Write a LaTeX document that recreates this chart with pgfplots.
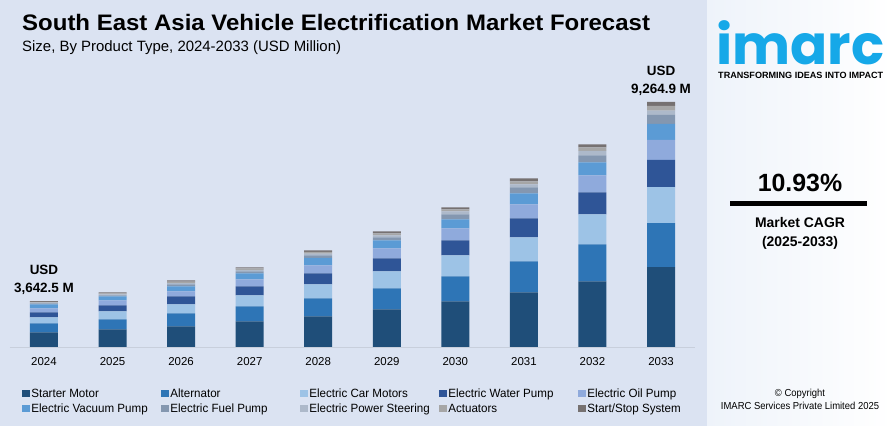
\documentclass[border=0pt]{standalone}
\usepackage{fontspec}
\setmainfont{Liberation Sans}
\newfontfamily\narrowfont[FakeStretch=0.93]{Liberation Sans}
\newfontfamily\legendfont[FakeStretch=0.97]{Liberation Sans}
\newfontfamily\titlefont[FakeStretch=1.07]{Liberation Sans}
\newfontfamily\logofont{Poppins}
\usepackage{pgfplots}
\usepackage{pgfplotstable}
\pgfplotsset{compat=1.18}

\definecolor{bgblue}{RGB}{219,227,242}
\definecolor{cStarter}{RGB}{31,78,121}
\definecolor{cAlt}{RGB}{46,117,182}
\definecolor{cCar}{RGB}{157,195,230}
\definecolor{cWater}{RGB}{47,85,151}
\definecolor{cOil}{RGB}{143,170,220}
\definecolor{cVac}{RGB}{91,155,213}
\definecolor{cFuel}{RGB}{132,151,176}
\definecolor{cPS}{RGB}{173,185,202}
\definecolor{cAct}{RGB}{166,166,166}
\definecolor{cSS}{RGB}{118,113,113}
\definecolor{imarc}{RGB}{22,168,232}
\definecolor{axisline}{RGB}{200,207,220}

% segment sizes (USD Million)
\pgfplotstableread{
idx st   alt  car  wat  oil vac fuel ps  act ss
0   556  340  227  189  151 151 38   30  26  30
1   669  378  302  227  189 151 38   38  38  38
2   782  491  340  302  189 189 76   49  49  53
3   971  567  416  340  265 227 76   57  49  45
4   1160 680  529  416  302 284 95   68  60  60
5   1425 794  643  491  378 302 113  76  76  76
6   1727 945  794  567  454 340 189  113 76  76
7   2068 1172 907  718  529 416 227  113 113 113
8   2483 1399 1134 832  643 491 265  163 140 113
9   3024 1663 1361 1021 756 605 340  163 178 151
}\segdata

\begin{document}
\begin{tikzpicture}
\useasboundingbox (0,0) rectangle (892bp,426bp);
\fill[bgblue] (0,0) rectangle (707bp,426bp);
\shade[left color={rgb,255:red,238;green,243;blue,250}, right color=white] (707bp,0) rectangle (892bp,426bp);

% titles
\node[anchor=base west, inner sep=0, font=\titlefont\bfseries\fontsize{22.5}{26}\selectfont] at (22bp,395bp)
  {South East Asia Vehicle Electrification Market Forecast};
\node[anchor=base west, inner sep=0, font=\fontsize{15}{18}\selectfont] at (22bp,374bp)
  {Size, By Product Type, 2024-2033 (USD Million)};

% right panel
\node[anchor=base west, inner sep=0, text=imarc] at (716bp,361bp)
  {\resizebox{168bp}{!}{\logofont\bfseries imarc}};
\node[anchor=base west, inner sep=0] at (718bp,347bp)
  {\resizebox{165bp}{!}{\bfseries TRANSFORMING IDEAS INTO IMPACT}};
\node[anchor=base, inner sep=0, font=\bfseries\fontsize{25}{30}\selectfont] at (800bp,234bp) {10.93\%};
\draw[line width=4.5bp] (730bp,222.5bp) -- (867bp,222.5bp);
\node[anchor=base, inner sep=0, font=\bfseries\fontsize{14}{17}\selectfont] at (800bp,198bp) {Market CAGR};
\node[anchor=base, inner sep=0, font=\bfseries\fontsize{14}{17}\selectfont] at (800bp,179bp) {(2025-2033)};
\node[anchor=base, inner sep=0, font=\narrowfont\fontsize{10.2}{12}\selectfont] at (800bp,30bp) {© Copyright};
\node[anchor=base, inner sep=0, font=\narrowfont\fontsize{10.2}{12}\selectfont] at (800bp,17bp) {IMARC Services Private Limited 2025};

\begin{axis}[
    at={(9.7bp,79bp)}, anchor=south west,
    scale only axis, width=685.6bp, height=257bp,
    xmin=-0.5, xmax=9.5, ymin=0, ymax=9715,
    ybar stacked, bar width=28bp,
    axis y line=none, axis x line*=bottom,
    x axis line style={-, draw=axisline, line width=0.8bp},
    xtick={0,...,9},
    xticklabels={2024,2025,2026,2027,2028,2029,2030,2031,2032,2033},
    major tick length=0pt,
    xticklabel style={font=\fontsize{11.5}{13}\selectfont, yshift=-7bp},
    clip=false,
    legend columns=5,
    legend cell align=left,
    legend image code/.code={\fill[#1,draw=none] (0bp,-3.5bp) rectangle (8bp,3.5bp);},
    legend style={draw=none, fill=none, at={(0.013,-0.148)}, anchor=north west,
        font=\legendfont\fontsize{12}{14}\selectfont,
        nodes={inner sep=1.5bp}, row sep=2bp,
        /tikz/every even column/.append style={column sep=0bp}},
]
\addplot[fill=cStarter, draw=none] table[x=idx,y=st] {\segdata};
\addlegendentry{\makebox[128bp][l]{Starter Motor}}
\addplot[fill=cAlt, draw=none] table[x=idx,y=alt] {\segdata};
\addlegendentry{\makebox[128bp][l]{Alternator}}
\addplot[fill=cCar, draw=none] table[x=idx,y=car] {\segdata};
\addlegendentry{\makebox[128bp][l]{Electric Car Motors}}
\addplot[fill=cWater, draw=none] table[x=idx,y=wat] {\segdata};
\addlegendentry{\makebox[128bp][l]{Electric Water Pump}}
\addplot[fill=cOil, draw=none] table[x=idx,y=oil] {\segdata};
\addlegendentry{Electric Oil Pump}
\addplot[fill=cVac, draw=none] table[x=idx,y=vac] {\segdata};
\addlegendentry{\makebox[128bp][l]{Electric Vacuum Pump}}
\addplot[fill=cFuel, draw=none] table[x=idx,y=fuel] {\segdata};
\addlegendentry{\makebox[128bp][l]{Electric Fuel Pump}}
\addplot[fill=cPS, draw=none] table[x=idx,y=ps] {\segdata};
\addlegendentry{\makebox[128bp][l]{Electric Power Steering}}
\addplot[fill=cAct, draw=none] table[x=idx,y=act] {\segdata};
\addlegendentry{\makebox[128bp][l]{Actuators}}
\addplot[fill=cSS, draw=none] table[x=idx,y=ss] {\segdata};
\addlegendentry{Start/Stop System}

\node[anchor=south, inner sep=0, align=center, yshift=6bp,
      font=\bfseries\fontsize{13.5}{18}\selectfont] at (axis cs:0,1738) {USD\\3,642.5 M};
\node[anchor=south, inner sep=0, align=center, yshift=6bp,
      font=\bfseries\fontsize{13.5}{18}\selectfont] at (axis cs:9,9262) {USD\\9,264.9 M};
\end{axis}
\end{tikzpicture}
\end{document}
